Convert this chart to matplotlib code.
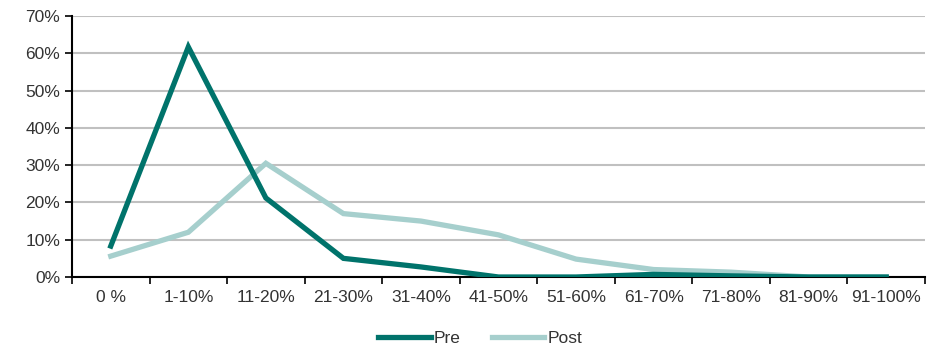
import matplotlib
matplotlib.use("Agg")
import matplotlib.pyplot as plt
from matplotlib.ticker import PercentFormatter

categories = ["0 %", "1-10%", "11-20%", "21-30%", "31-40%", "41-50%",
              "51-60%", "61-70%", "71-80%", "81-90%", "91-100%"]
pre = [8.3, 61.7, 21.2, 5.0, 2.7, 0.0, 0.0, 0.7, 0.3, 0.0, 0.0]
post = [5.6, 12.0, 30.5, 17.0, 15.0, 11.3, 4.8, 2.0, 1.3, 0.0, 0.0]

PRE_COLOR = "#00736b"
POST_COLOR = "#a6cfcd"
TEXT_COLOR = "#333333"

plt.rcParams["font.family"] = ["Liberation Sans", "DejaVu Sans"]

fig = plt.figure(figsize=(9.42, 3.56), dpi=100)
ax = fig.add_axes([72 / 942, 1 - 277 / 356, 853 / 942, 261 / 356])

x = list(range(len(categories)))
ax.plot(x, pre, color=PRE_COLOR, linewidth=3.8, label="Pre",
        solid_joinstyle="miter", zorder=3)
ax.plot(x, post, color=POST_COLOR, linewidth=3.8, label="Post",
        solid_joinstyle="miter", zorder=2)

ax.set_xlim(-0.5, len(categories) - 0.5)
ax.set_ylim(0, 70)
ax.set_yticks(range(0, 71, 10))
ax.yaxis.set_major_formatter(PercentFormatter(decimals=0))

ax.set_xticks([i - 0.5 for i in range(len(categories) + 1)])
ax.set_xticklabels([])
ax.set_xticks(x, minor=True)
ax.set_xticklabels(categories, minor=True)
ax.tick_params(axis="x", which="minor", length=0, pad=9,
               labelsize=12.5, labelcolor=TEXT_COLOR)
ax.tick_params(axis="x", which="major", length=5, width=1.2, direction="out")
ax.tick_params(axis="y", length=5, width=1.2, direction="out",
               labelsize=12.5, labelcolor=TEXT_COLOR)

ax.grid(axis="y", color="#c0c0c0", linewidth=1.5)
ax.set_axisbelow(True)
for side in ("top", "right"):
    ax.spines[side].set_visible(False)
for side in ("left", "bottom"):
    ax.spines[side].set_linewidth(1.5)
    ax.spines[side].set_color("black")

fig.legend(loc="lower center", bbox_to_anchor=(0.51, -0.015), ncol=2,
           frameon=False, fontsize=12.5, handlelength=3.0, columnspacing=1.8,
           handletextpad=0.2, labelcolor=TEXT_COLOR)

fig.savefig("out.png", dpi=100)
